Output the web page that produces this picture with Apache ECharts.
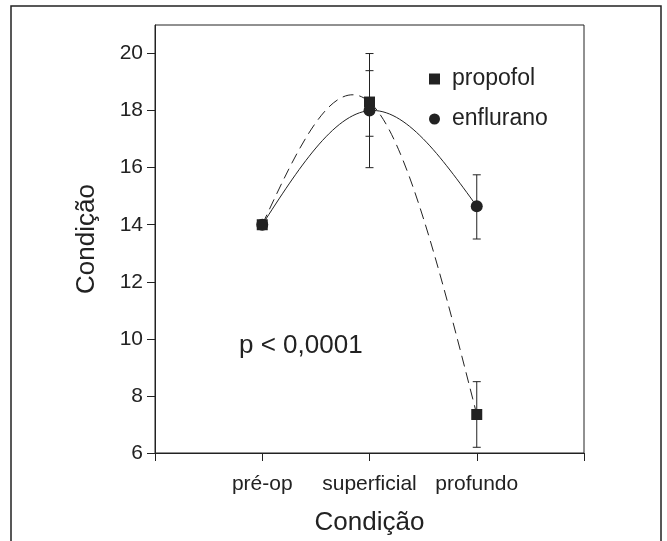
<!DOCTYPE html>
<html>
<head>
<meta charset="utf-8">
<script src="https://cdn.jsdelivr.net/npm/echarts@6/dist/echarts.min.js"></script>
<style>
  html, body { margin: 0; padding: 0; background: #fff; }
  #chart { width: 667px; height: 541px; }
</style>
</head>
<body>
<div id="chart"></div>
<script>
var categories = ['pré-op', 'superficial', 'profundo'];
var catPos = [1, 2, 3];
var propofol = [14, 18.3, 7.35];
var enflurano = [14, 18, 14.65];
var propofolLow = [null, 17.1, 6.2];
var propofolHigh = [null, 19.4, 8.5];
var enfluranoLow = [null, 16, 13.5];
var enfluranoHigh = [null, 20, 15.75];
var yTicks = [6, 8, 10, 12, 14, 16, 18, 20];

var FONT = '"Liberation Sans", Arial, sans-serif';
var INK = '#222';

function pairs(vals) {
  var d = [];
  for (var i = 0; i < catPos.length; i++) d.push([catPos[i], vals[i]]);
  return d;
}
function segments(vals) {
  var d = [];
  for (var i = 0; i < catPos.length - 1; i++) d.push([catPos[i], vals[i], catPos[i + 1], vals[i + 1]]);
  return d;
}
function errData(low, high) {
  var d = [];
  for (var i = 0; i < catPos.length; i++) {
    if (low[i] != null) d.push([catPos[i], low[i], high[i]]);
  }
  return d;
}

// spline cúbica natural (passo 1): segundas derivadas M
function splineM(y) {
  var n = y.length, M = new Array(n).fill(0);
  if (n < 3) return M;
  var c = [], r = [];
  for (var i = 1; i < n - 1; i++) {
    var rhs = 6 * (y[i - 1] - 2 * y[i] + y[i + 1]);
    var b = 4;
    if (i > 1) { b -= c[i - 2]; rhs -= r[i - 2]; }
    c.push(1 / b);
    r.push(rhs / b);
  }
  for (var k = n - 2; k >= 1; k--) {
    M[k] = r[k - 1] - (k < n - 2 ? c[k - 1] * M[k + 1] : 0);
  }
  return M;
}

function curveRenderer(vals, dash) {
  var M = splineM(vals);
  return function (params, api) {
    var i = params.dataIndex;
    var x0 = api.value(0), y0 = api.value(1), x1 = api.value(2), y1 = api.value(3);
    var h = x1 - x0;
    var s = (y1 - y0) / h;
    var d0 = s - h * (2 * M[i] + M[i + 1]) / 6;
    var d1 = s + h * (M[i] + 2 * M[i + 1]) / 6;
    var p0 = api.coord([x0, y0]);
    var p1 = api.coord([x1, y1]);
    var c0 = api.coord([x0 + h / 3, y0 + d0 * h / 3]);
    var c1 = api.coord([x1 - h / 3, y1 - d1 * h / 3]);
    return {
      type: 'bezierCurve',
      shape: { x1: p0[0], y1: p0[1], x2: p1[0], y2: p1[1], cpx1: c0[0], cpy1: c0[1], cpx2: c1[0], cpy2: c1[1] },
      style: { stroke: INK, lineWidth: 1, fill: null, lineDash: dash }
    };
  };
}

// barra de erro: linha vertical + traços nas pontas
function renderErr(params, api) {
  var lo = api.coord([api.value(0), api.value(1)]);
  var hi = api.coord([api.value(0), api.value(2)]);
  var w = 4;
  var st = { stroke: INK, lineWidth: 1 };
  return {
    type: 'group',
    children: [
      { type: 'line', shape: { x1: hi[0], y1: hi[1], x2: lo[0], y2: lo[1] }, style: st },
      { type: 'line', shape: { x1: hi[0] - w, y1: hi[1], x2: hi[0] + w, y2: hi[1] }, style: st },
      { type: 'line', shape: { x1: lo[0] - w, y1: lo[1], x2: lo[0] + w, y2: lo[1] }, style: st }
    ]
  };
}

var myChart = echarts.init(document.getElementById('chart'));
var option = {
  animation: false,
  backgroundColor: '#fff',
  textStyle: { fontFamily: FONT, color: INK },
  grid: {
    left: 155, right: 83, top: 25, bottom: 86,
    show: true, borderColor: INK, borderWidth: 1
  },
  legend: {
    orient: 'vertical',
    left: 429,
    top: 67,
    padding: 0,
    itemWidth: 11,
    itemHeight: 11,
    itemGap: 16,
    data: [
      { name: 'propofol', icon: 'rect' },
      { name: 'enflurano', icon: 'circle' }
    ],
    textStyle: { fontSize: 23, lineHeight: 24, color: INK, fontFamily: FONT, padding: [0, 0, 0, 7] }
  },
  xAxis: {
    type: 'value',
    min: 0,
    max: 4,
    interval: 1,
    name: 'Condição',
    nameLocation: 'middle',
    nameGap: 57,
    nameTextStyle: { fontSize: 26, color: INK, fontFamily: FONT },
    axisLine: { lineStyle: { color: INK, width: 1 } },
    axisTick: { length: 8, lineStyle: { color: INK } },
    axisLabel: {
      customValues: catPos,
      margin: 21,
      fontSize: 21,
      color: INK,
      fontFamily: FONT,
      formatter: function (v) { return categories[catPos.indexOf(v)] || ''; }
    },
    splitLine: { show: false }
  },
  yAxis: {
    type: 'value',
    min: 6,
    max: 21,
    name: 'Condição',
    nameLocation: 'middle',
    nameGap: 55,
    nameTextStyle: { fontSize: 26, color: INK, fontFamily: FONT },
    axisLine: { show: true, lineStyle: { color: INK, width: 1 } },
    axisTick: { show: true, length: 8, customValues: yTicks, lineStyle: { color: INK } },
    axisLabel: { customValues: yTicks, margin: 12, fontSize: 21, color: INK, fontFamily: FONT },
    splitLine: { show: false }
  },
  graphic: [
    {
      type: 'rect',
      shape: { x: 11, y: 6, width: 650, height: 560 },
      style: { fill: 'none', stroke: INK, lineWidth: 1.5 },
      z: -1
    },
    {
      type: 'text',
      left: 239,
      top: 333,
      style: { text: 'p < 0,0001', fontSize: 26, fill: INK, fontFamily: FONT }
    }
  ],
  series: [
    {
      type: 'custom',
      renderItem: renderErr,
      encode: { x: 0, y: [1, 2] },
      data: errData(enfluranoLow, enfluranoHigh),
      z: 1
    },
    {
      type: 'custom',
      renderItem: renderErr,
      encode: { x: 0, y: [1, 2] },
      data: errData(propofolLow, propofolHigh),
      z: 1
    },
    {
      type: 'custom',
      renderItem: curveRenderer(propofol, [11, 6]),
      encode: { x: [0, 2], y: [1, 3] },
      data: segments(propofol),
      z: 2
    },
    {
      type: 'custom',
      renderItem: curveRenderer(enflurano, null),
      encode: { x: [0, 2], y: [1, 3] },
      data: segments(enflurano),
      z: 2
    },
    {
      name: 'propofol',
      type: 'line',
      symbol: 'rect',
      symbolSize: 11,
      itemStyle: { color: INK },
      lineStyle: { width: 0, opacity: 0 },
      data: pairs(propofol),
      z: 3
    },
    {
      name: 'enflurano',
      type: 'line',
      symbol: 'circle',
      symbolSize: 12,
      itemStyle: { color: INK },
      lineStyle: { width: 0, opacity: 0 },
      data: pairs(enflurano),
      z: 3
    }
  ]
};
myChart.setOption(option, true);
</script>
</body>
</html>
